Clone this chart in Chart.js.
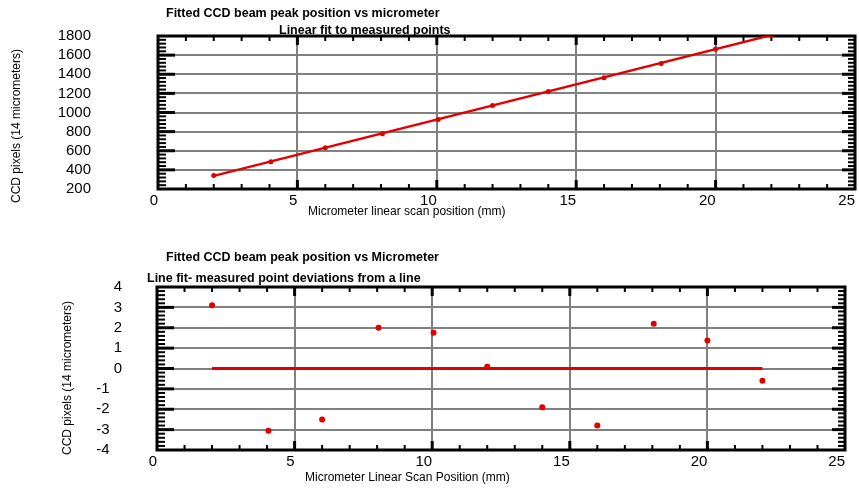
<!DOCTYPE html>
<html>
<head>
<meta charset="utf-8">
<script src="https://cdn.jsdelivr.net/npm/chart.js@4.4.0/dist/chart.umd.min.js"></script>
<style>
  html, body { margin: 0; padding: 0; background: #fff; }
  #wrap { position: relative; width: 859px; height: 489px; overflow: hidden; }
  .panel { position: absolute; left: 0; width: 859px; }
</style>
</head>
<body>
<div id="wrap">
  <div class="panel" style="top:0;height:240px"><canvas id="fitChart" width="859" height="240"></canvas></div>
  <div class="panel" style="top:245px;height:244px"><canvas id="resChart" width="859" height="244"></canvas></div>
</div>
<script>
// micrometer scan positions (mm)
const positions = [2, 4.05, 6, 8.05, 10.05, 12, 14, 16, 18.05, 20, 22];
// fitted CCD beam peak at each position (pixels)
const peakPixels = [340, 486, 632, 779, 926, 1073, 1219, 1364, 1512, 1663, 1809];
// straight line fit, end points
const fitX = [2, 22];
const fitY = [337, 1809];
// deviation of each measured point from the line (pixels)
const deviations = [3.1, -3.05, -2.5, 2.0, 1.75, 0.08, -1.9, -2.8, 2.2, 1.38, -0.6];
const zeroY = [0, 0];

// tick labels
const xTicks = [0, 5, 10, 15, 20, 25];
const yTicksFit = [200, 400, 600, 800, 1000, 1200, 1400, 1600, 1800];
const yTicksRes = [-4, -3, -2, -1, 0, 1, 2, 3, 4];

const RED = '#e00000';
const GRID = '#808080';
const FAMILY = "'Liberation Sans', Arial, sans-serif";

// inner tick marks, frame and free text
const frameTicks = {
  id: 'frameTicks',
  beforeDatasetsDraw(chart, args, o) {
    const { ctx, chartArea: a, scales: { x, y } } = chart;
    ctx.save();
    ctx.strokeStyle = '#000';
    const seg = (x1, y1, x2, y2, w) => {
      ctx.lineWidth = w;
      ctx.beginPath();
      ctx.moveTo(x1, y1);
      ctx.lineTo(x2, y2);
      ctx.stroke();
    };
    const nx = Math.round((x.max - x.min) / o.xMinor);
    for (let i = 1; i < nx; i++) {
      const major = i % o.xEvery === 0;
      const px = x.getPixelForValue(x.min + i * o.xMinor);
      const len = major ? 9 : 5;
      seg(px, a.bottom, px, a.bottom - len, major ? 3 : 2);
      seg(px, a.top, px, a.top + len, major ? 3 : 2);
    }
    const ny = Math.round((y.max - y.min) / o.yMinor);
    for (let i = 1; i < ny; i++) {
      const major = i % 5 === 0;
      const py = y.getPixelForValue(y.min + i * o.yMinor);
      seg(a.left, py, a.left + (major ? 17 : 8), py, major ? 3 : 2);
      seg(a.right, py, a.right - (major ? 13 : 7), py, major ? 3 : 2);
    }
    ctx.lineWidth = 3;
    ctx.strokeRect(a.left, a.top, a.right - a.left, a.bottom - a.top);
    ctx.restore();
  },
  afterDraw(chart, args, o) {
    const ctx = chart.ctx;
    ctx.save();
    ctx.fillStyle = '#000';
    o.texts.forEach(t => {
      ctx.save();
      ctx.font = t.font;
      ctx.translate(t.x, t.y);
      if (t.rot) ctx.rotate(t.rot);
      ctx.textAlign = t.align || 'left';
      ctx.textBaseline = 'middle';
      ctx.fillText(t.text, 0, 0);
      ctx.restore();
    });
    ctx.restore();
  }
};

function xScale(height) {
  return {
    type: 'linear', min: 0, max: 25,
    afterBuildTicks: s => { s.ticks = xTicks.map(v => ({ value: v })); },
    afterFit: s => { s.height = height; },
    grid: { color: GRID, lineWidth: 2, drawTicks: false },
    border: { display: false },
    ticks: { align: 'end', padding: 3, autoSkip: false, maxRotation: 0, color: '#000', font: { family: FAMILY, size: 15 }, callback: v => String(v) }
  };
}

// the gap between labels and axis comes from an invisible tick mark,
// ticks.padding would also shrink the plot vertically
function yScale(min, max, list, width, gap, cb) {
  return {
    type: 'linear', min: min, max: max,
    afterBuildTicks: s => { s.ticks = list.map(v => ({ value: v })); },
    afterFit: s => { s.width = width; },
    grid: { color: GRID, lineWidth: 2, drawTicks: true, tickLength: gap, tickColor: 'rgba(0,0,0,0)' },
    border: { display: false },
    ticks: { padding: 4, autoSkip: false, color: '#000', font: { family: FAMILY, size: 15 }, callback: cb }
  };
}

const bold = "bold 12.5px " + FAMILY;
const plain = "12px " + FAMILY;

new Chart(document.getElementById('fitChart'), {
  type: 'scatter',
  data: {
    datasets: [
      { data: fitX.map((x, i) => ({ x: x, y: fitY[i] })), showLine: true, borderColor: RED, borderWidth: 2.5, pointRadius: 0 },
      { data: positions.map((x, i) => ({ x: x, y: peakPixels[i] })), backgroundColor: RED, borderColor: RED, borderWidth: 0, pointRadius: 2.5 }
    ]
  },
  options: {
    responsive: false, animation: false, devicePixelRatio: 1,
    layout: { padding: { top: 36, right: 3, left: 0, bottom: 0 } },
    plugins: {
      legend: { display: false }, tooltip: { enabled: false },
      frameTicks: {
        xMinor: 1, xEvery: 5, yMinor: 40,
        texts: [
          { text: 'Fitted CCD beam peak position vs micrometer', x: 166, y: 14, font: bold },
          { text: 'Linear fit to measured points', x: 279, y: 31, font: bold },
          { text: 'Micrometer linear scan position (mm)', x: 308, y: 212, font: plain },
          { text: 'CCD pixels (14 micrometers)', x: 17, y: 126, font: plain, rot: -Math.PI / 2, align: 'center' }
        ]
      }
    },
    scales: {
      x: xScale(51),
      y: yScale(200, 1800, yTicksFit, 158, 63, v => String(v))
    }
  },
  plugins: [frameTicks]
});

new Chart(document.getElementById('resChart'), {
  type: 'scatter',
  data: {
    datasets: [
      { data: fitX.map((x, i) => ({ x: x, y: zeroY[i] })), showLine: true, borderColor: RED, borderWidth: 3, pointRadius: 0 },
      { data: positions.map((x, i) => ({ x: x, y: deviations[i] })), backgroundColor: RED, borderColor: RED, borderWidth: 0, pointRadius: 3 }
    ]
  },
  options: {
    responsive: false, animation: false, devicePixelRatio: 1,
    layout: { padding: { top: 42, right: 14, left: 0, bottom: 0 } },
    plugins: {
      legend: { display: false }, tooltip: { enabled: false },
      frameTicks: {
        xMinor: 1, xEvery: 5, yMinor: 0.2,
        texts: [
          { text: 'Fitted CCD beam peak position vs Micrometer', x: 166, y: 12.5, font: bold },
          { text: 'Line fit- measured point deviations from a line', x: 147, y: 34, font: bold },
          { text: 'Micrometer Linear Scan Position (mm)', x: 305, y: 233, font: plain },
          { text: 'CCD pixels (14 micrometers)', x: 68, y: 133, font: plain, rot: -Math.PI / 2, align: 'center' }
        ]
      }
    },
    scales: {
      x: xScale(39),
      y: yScale(-4, 4, yTicksRes, 157, 31, v => v < 0 ? v + '   ' : String(v))
    }
  },
  plugins: [frameTicks]
});
</script>
</body>
</html>
